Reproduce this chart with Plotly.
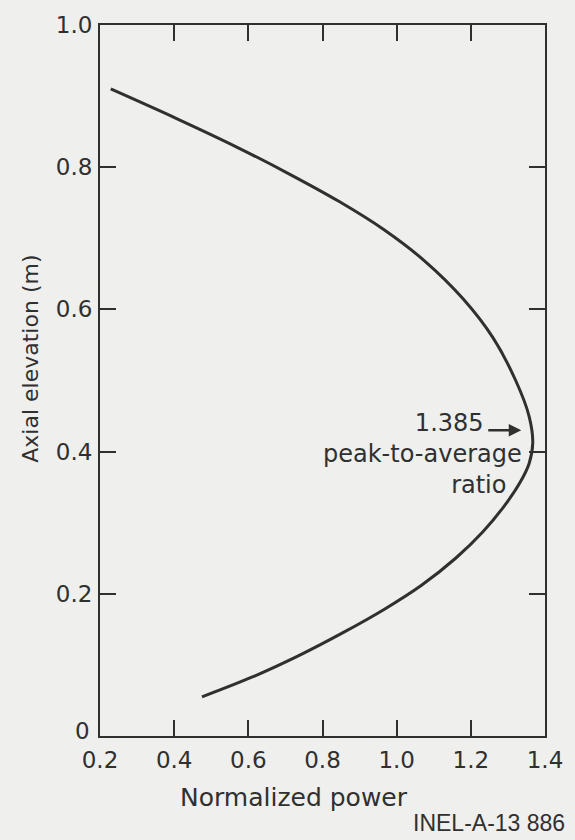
import plotly.graph_objects as go

# Data (normalized power vs axial elevation)
power = [0.229, 0.408, 0.570, 0.712, 0.844, 0.966, 1.078, 1.179, 1.260, 1.321,
         1.357, 1.367, 1.357, 1.331, 1.288, 1.232, 1.159, 1.067, 0.966, 0.854,
         0.732, 0.611, 0.475]
elevation = [0.910, 0.868, 0.828, 0.790, 0.752, 0.712, 0.667, 0.615, 0.560, 0.500,
             0.450, 0.412, 0.383, 0.355, 0.322, 0.287, 0.250, 0.212, 0.178, 0.145,
             0.112, 0.083, 0.055]

x_ticks = [0.2, 0.4, 0.6, 0.8, 1.0, 1.2, 1.4]
x_ticktext = ["0.2", "0.4", "0.6", "0.8", "1.0", "1.2", "1.4"]
y_ticks = [0, 0.2, 0.4, 0.6, 0.8, 1.0]
y_ticktext = ["0", "0.2", "0.4", "0.6", "0.8", "1.0"]

peak_label = "1.385"
peak_text = ["peak-to-average", "ratio"]

ink = "#303030"
bg = "#efefed"
font = "DejaVu Sans, sans-serif"
narrow = "Liberation Sans, Arial, sans-serif"

W, H = 575, 840
ml, mr, mt, mb = 100, 24, 16, 104
pw, ph = W - ml - mr, H - mt - mb


def px_x(px):
    return (px - ml) / pw


def px_y(py):
    return (H - mb - py) / ph


fig = go.Figure()
fig.add_trace(go.Scatter(
    x=power, y=elevation, mode="lines",
    line=dict(color=ink, width=3, shape="spline", smoothing=1.0),
    hoverinfo="skip", showlegend=False,
))

axis_common = dict(
    showgrid=False, zeroline=False, showline=True, linecolor=ink, linewidth=2,
    mirror="ticks", ticks="inside", ticklen=16, tickwidth=2, tickcolor=ink,
    tickfont=dict(family=font, size=23, color=ink),
)

# the "0" label of the y axis is drawn separately (slightly raised, as in the original)
y_axis_text = [""] + y_ticktext[1:]

fig.update_xaxes(range=[0.2, 1.4], tickvals=x_ticks, ticktext=x_ticktext,
                 ticklabelstandoff=2, **axis_common)
fig.update_yaxes(range=[0, 1.0], tickvals=y_ticks, ticktext=y_axis_text,
                 ticklabelstandoff=1, **axis_common)

fig.add_annotation(x=px_x(91), y=px_y(731), xref="paper", yref="paper",
                   text=y_ticktext[0], showarrow=False, borderpad=0,
                   xanchor="right", yanchor="middle",
                   font=dict(family=font, size=23, color=ink))

# Axis titles
fig.add_annotation(x=px_x(297), y=px_y(798), xref="paper", yref="paper",
                   text="Normalized power", showarrow=False,
                   xanchor="center", yanchor="middle",
                   font=dict(family=font, size=25, color=ink))
fig.add_annotation(x=px_x(30), y=px_y(354), xref="paper", yref="paper",
                   text="Axial elevation (m)", showarrow=False, textangle=-90,
                   xanchor="center", yanchor="middle",
                   font=dict(family=font, size=22, color=ink))

# Arrow and annotation text (one right-aligned block)
fig.add_annotation(x=1.336, y=0.430, ax=1.243, ay=0.430, xref="x", yref="y",
                   axref="x", ayref="y", text="", showarrow=True,
                   arrowhead=2, arrowsize=1, arrowwidth=2.5, arrowcolor=ink)
block = (peak_label + "&nbsp;" * 5 + "<br>" + peak_text[0] + "<br>"
         + peak_text[1] + "&nbsp;" * 2)
fig.add_annotation(x=1.341, y=0.397, xref="x", yref="y", text=block,
                   showarrow=False, xanchor="right", yanchor="middle",
                   align="right", borderpad=0,
                   font=dict(family=font, size=24, color=ink))

# Figure ID
fig.add_annotation(x=px_x(573), y=px_y(824), xref="paper", yref="paper",
                   text="INEL-A-13 886", showarrow=False,
                   xanchor="right", yanchor="middle",
                   font=dict(family=narrow, size=23, color=ink))

fig.update_layout(
    width=W, height=H,
    margin=dict(l=ml, r=mr, t=mt, b=mb),
    paper_bgcolor=bg, plot_bgcolor=bg,
    font=dict(family=font, color=ink),
)

fig.write_html("out.html")
